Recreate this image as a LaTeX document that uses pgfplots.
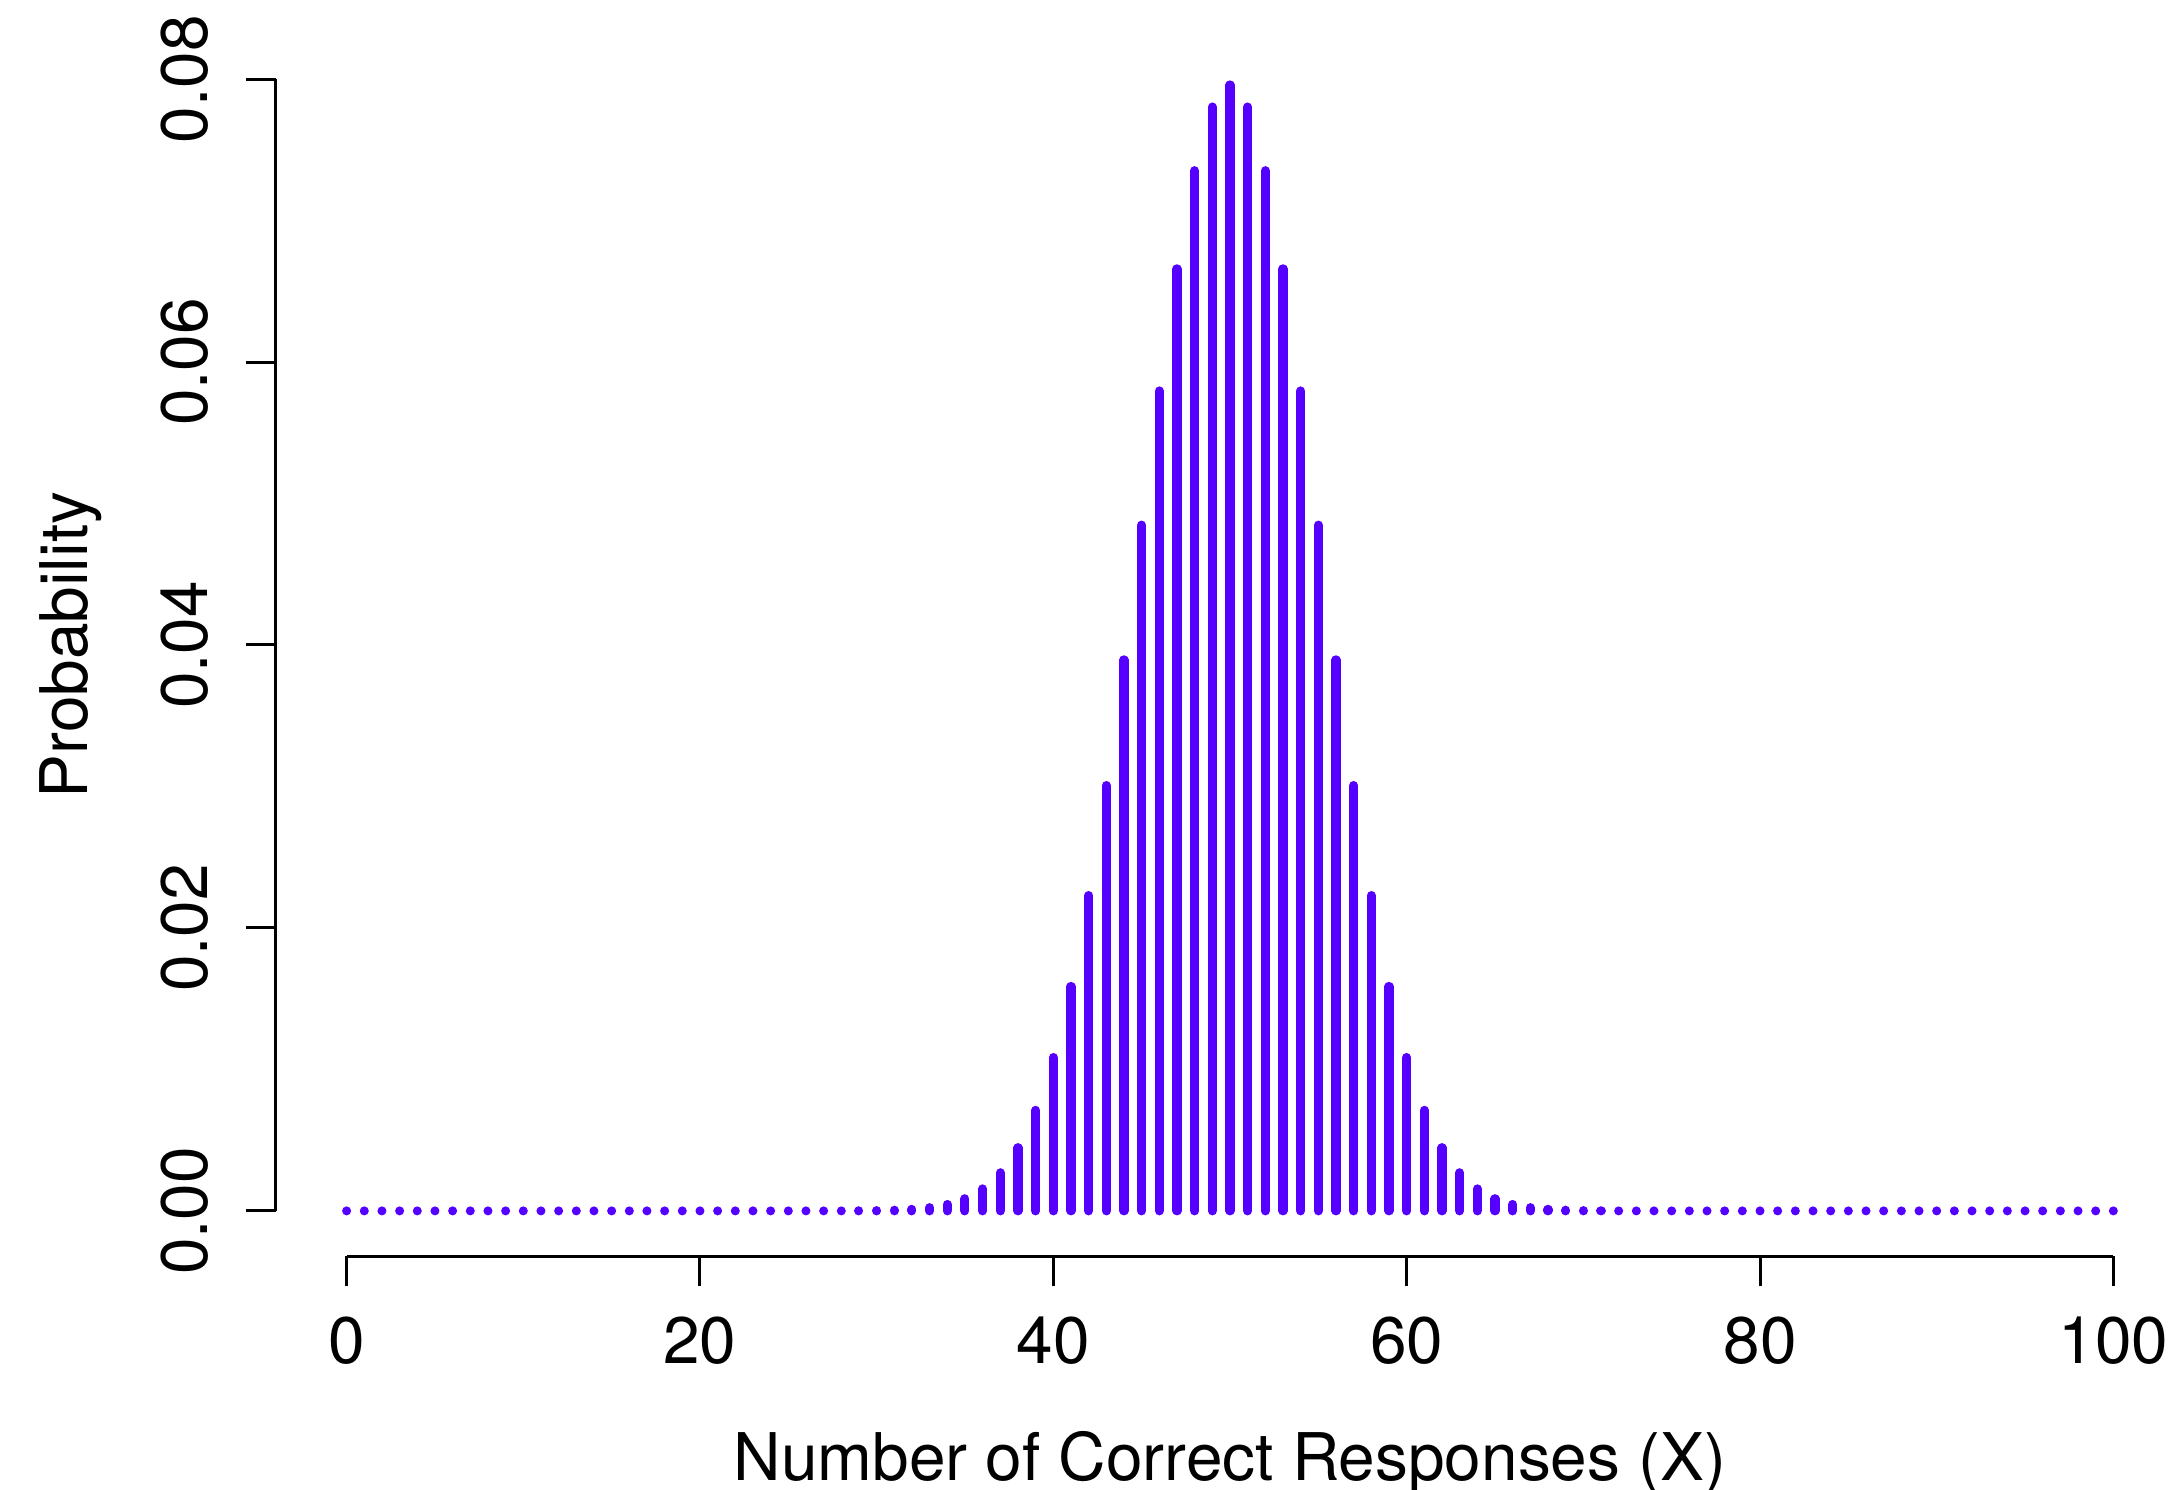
\documentclass[border=0pt]{standalone}
\usepackage{fontspec}
\setmainfont{TeX Gyre Heros}
\usepackage{pgfplots}
\pgfplotsset{compat=1.18}
\definecolor{stem}{RGB}{85,0,255}

\begin{document}
\begin{tikzpicture}[font=\fontsize{14.2}{17}\selectfont]
\begin{axis}[
  name=ax,
  scale only axis, width=410.8pt, height=264pt,
  xmin=-4, xmax=103.66, ymin=-0.0032, ymax=0.0832,
  axis x line*=bottom, axis y line*=left,
  axis line style={draw=none},
  tick align=outside, major tick length=6.5pt,
  tick style={black, line width=0.65pt},
  scaled y ticks=false, scaled x ticks=false,
  xtick={0,20,40,60,80,100},
  xticklabels={0,20,40,60,80,100},
  ytick={0,0.02,0.04,0.06,0.08},
  yticklabels={0.00,0.02,0.04,0.06,0.08},
  xticklabel style={anchor=base, inner sep=0pt, yshift=-16.6pt},
  yticklabel style={xshift=-8.2pt, rotate=90, anchor=base, inner sep=0pt},
  xlabel={Number of Correct Responses (X)},
  ylabel={Probability},
  xlabel style={at={(axis description cs:0.5016,0)}, anchor=base, inner sep=0pt, yshift=-48.4pt},
  ylabel style={at={(axis description cs:0,0.5)}, anchor=base, inner sep=0pt, yshift=40.6pt},
  clip=false,
]
\addplot[ycomb, stem, line width=1.95pt, line cap=round] coordinates {
(0,0) (1,0) (2,0) (3,0) (4,0) (5,0) (6,0) (7,0) (8,0) (9,0)
(10,0) (11,0) (12,0) (13,0) (14,0) (15,0) (16,0) (17,0) (18,0) (19,0)
(20,0) (21,0) (22,0) (23,0) (24,0) (25,0) (26,0) (27,0) (28,0) (29,0.0000098)
(30,0.0000232) (31,0.0000523) (32,0.0001128) (33,0.0002325) (34,0.0004581)
(35,0.0008639) (36,0.0015597) (37,0.0026979) (38,0.0044729) (39,0.0071108)
(40,0.0108439) (41,0.0158692) (42,0.0222923) (43,0.0300686) (44,0.0389525)
(45,0.0484743) (46,0.0579584) (47,0.0665904) (48,0.0735270) (49,0.0780286)
(50,0.0795892)
(51,0.0780286) (52,0.0735270) (53,0.0665904) (54,0.0579584) (55,0.0484743)
(56,0.0389525) (57,0.0300686) (58,0.0222923) (59,0.0158692) (60,0.0108439)
(61,0.0071108) (62,0.0044729) (63,0.0026979) (64,0.0015597) (65,0.0008639)
(66,0.0004581) (67,0.0002325) (68,0.0001128) (69,0.0000523) (70,0.0000232)
(71,0.0000098) (72,0) (73,0) (74,0) (75,0) (76,0) (77,0) (78,0) (79,0)
(80,0) (81,0) (82,0) (83,0) (84,0) (85,0) (86,0) (87,0) (88,0) (89,0)
(90,0) (91,0) (92,0) (93,0) (94,0) (95,0) (96,0) (97,0) (98,0) (99,0) (100,0)
};
% R-style detached axis lines
\draw[black, line width=0.65pt] (axis cs:0,-0.0032) -- (axis cs:100,-0.0032);
\draw[black, line width=0.65pt] (axis cs:-4,0) -- (axis cs:-4,0.08);
\end{axis}
\pgfresetboundingbox
\path[use as bounding box] ([xshift=-59.6pt, yshift=-50.5pt]ax.south west)
  rectangle ([yshift=7.3pt]ax.north east);
\end{tikzpicture}
\end{document}
